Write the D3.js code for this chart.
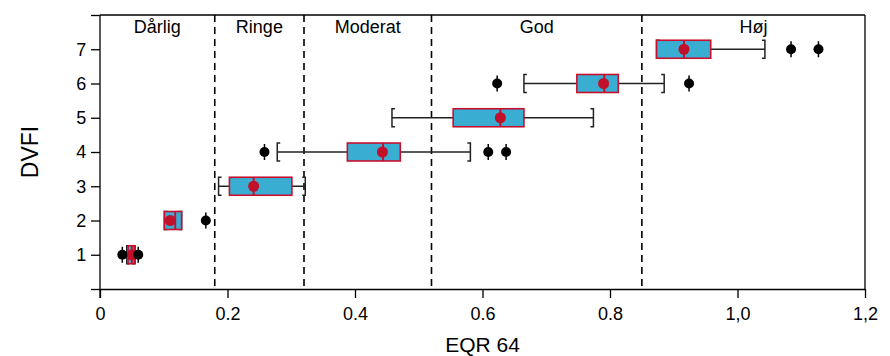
<!DOCTYPE html>
<html>
<head>
<meta charset="utf-8">
<script src="https://cdn.jsdelivr.net/npm/d3@7"></script>
<style>
  body { margin: 0; background: #fff; }
  text { font-family: "Liberation Sans", Arial, sans-serif; }
</style>
</head>
<body>
<script>
// DVFI levels and box statistics (EQR values)
var dvfi = [1, 2, 3, 4, 5, 6, 7];
var whiskLo = [0.042, 0.101, 0.186, 0.278, 0.458, 0.665, 0.873];
var q1      = [0.044, 0.101, 0.203, 0.388, 0.554, 0.748, 0.873];
var medians = [0.050, 0.118, 0.241, 0.444, 0.628, 0.791, 0.916];
var q3      = [0.054, 0.128, 0.301, 0.471, 0.665, 0.813, 0.958];
var whiskHi = [0.055, 0.128, 0.322, 0.581, 0.774, 0.885, 1.043];
var means   = [0.050, 0.110, 0.241, 0.443, 0.628, 0.790, 0.916];
var outliers = [[0.035, 0.060], [0.166], [], [0.258, 0.609, 0.637], [], [0.623, 0.924], [1.084, 1.127]];

// class boundaries and names
var bounds = [0.18, 0.32, 0.52, 0.85];
var classNames = ["Dårlig", "Ringe", "Moderat", "God", "Høj"];

var xTicks = [0, 0.2, 0.4, 0.6, 0.8, 1.0, 1.2];
var xTickLabels = ["0", "0.2", "0.4", "0.6", "0.8", "1,0", "1,2"];

var W = 890, H = 356;
var margin = { top: 15, right: 25, bottom: 67, left: 100 };
var width = W - margin.left - margin.right,
  height = H - margin.top - margin.bottom;

var svg = d3.select("body").append("svg")
  .attr("width", W)
  .attr("height", H);

var g = svg.append("g")
  .attr("transform", `translate(${margin.left},${margin.top})`);

var x = d3.scaleLinear().domain([0, 1.2]).range([0, width]);
var y = d3.scaleLinear().domain([0, 8]).range([height, 0]);

var boxH = 9, serif = 3;

// dashed class boundaries
g.selectAll(".bound")
  .data(bounds).enter()
  .append("line")
  .attr("class", "bound")
  .attr("x1", d => x(d)).attr("x2", d => x(d))
  .attr("y1", 0).attr("y2", height)
  .attr("stroke", "#000")
  .attr("stroke-width", 1.6)
  .attr("stroke-dasharray", "7 5");

// class names centered in each band
var edges = [0].concat(bounds, [1.2]);
g.selectAll(".cls")
  .data(classNames).enter()
  .append("text")
  .attr("class", "cls")
  .attr("x", (d, i) => (x(edges[i]) + x(edges[i + 1])) / 2)
  .attr("y", 18)
  .attr("text-anchor", "middle")
  .attr("font-size", 18)
  .text(d => d);

// box plot rows
var rows = dvfi.map(function (d, i) {
  return { lvl: d, lo: whiskLo[i], q1: q1[i], med: medians[i], q3: q3[i], hi: whiskHi[i], mean: means[i], out: outliers[i] };
});

var row = g.selectAll(".row")
  .data(rows).enter()
  .append("g")
  .attr("class", "row")
  .attr("transform", d => `translate(0,${y(d.lvl)})`);

// whisker lines
row.append("line")
  .attr("x1", d => x(d.lo)).attr("x2", d => x(d.hi))
  .attr("y1", 0).attr("y2", 0)
  .attr("stroke", "#222").attr("stroke-width", 1.3);

// bracket ends
row.append("path")
  .attr("d", d => `M${x(d.lo) + serif},${-boxH}H${x(d.lo)}V${boxH}H${x(d.lo) + serif}`)
  .attr("fill", "none").attr("stroke", "#222").attr("stroke-width", 1.5);
row.append("path")
  .attr("d", d => `M${x(d.hi) - serif},${-boxH}H${x(d.hi)}V${boxH}H${x(d.hi) - serif}`)
  .attr("fill", "none").attr("stroke", "#222").attr("stroke-width", 1.5);

// boxes
row.append("rect")
  .attr("x", d => x(d.q1))
  .attr("width", d => Math.max(x(d.q3) - x(d.q1), 1))
  .attr("y", -boxH).attr("height", 2 * boxH)
  .attr("fill", "#3aaed2")
  .attr("stroke", "#c8102e")
  .attr("stroke-width", 1.6);

// median
row.append("line")
  .attr("x1", d => x(d.med)).attr("x2", d => x(d.med))
  .attr("y1", -boxH).attr("y2", boxH)
  .attr("stroke", "#c8102e").attr("stroke-width", 2);

// mean
row.append("circle")
  .attr("cx", d => x(d.mean)).attr("cy", 0).attr("r", 5.5)
  .attr("fill", "#c0102a");

// outliers
var out = row.selectAll(".out")
  .data(d => d.out).enter()
  .append("g").attr("class", "out");
out.append("line")
  .attr("x1", d => x(d)).attr("x2", d => x(d))
  .attr("y1", -8).attr("y2", 8)
  .attr("stroke", "#000").attr("stroke-width", 1.5);
out.append("circle")
  .attr("cx", d => x(d)).attr("cy", 0).attr("r", 5)
  .attr("fill", "#000");

// frame: top and right
g.append("line").attr("x1", 0).attr("x2", width).attr("y1", 0).attr("y2", 0)
  .attr("stroke", "#000").attr("stroke-width", 1.3);
g.append("line").attr("x1", width).attr("x2", width).attr("y1", 0).attr("y2", height)
  .attr("stroke", "#000").attr("stroke-width", 1.3);

// axes
var xAxis = g.append("g")
  .attr("transform", `translate(0,${height})`)
  .call(d3.axisBottom(x).tickValues(xTicks).tickSize(9).tickSizeOuter(0)
    .tickFormat((d, i) => xTickLabels[i]));
xAxis.selectAll("text").attr("font-size", 18).attr("dy", "1.05em").attr("fill", "#000");

var yAxis = g.append("g")
  .call(d3.axisLeft(y).tickValues(d3.range(0, 9)).tickSize(9).tickSizeOuter(0)
    .tickFormat(d => (d >= 1 && d <= 7) ? d : ""));
yAxis.selectAll("text").attr("font-size", 18).attr("dx", "-0.1em").attr("fill", "#000");

[xAxis, yAxis].forEach(function (a) {
  a.selectAll("path, line").attr("stroke", "#000").attr("stroke-width", 1.3);
});
yAxis.select(".domain").attr("d", `M0,0V${height + 9}`);

// axis titles
svg.append("text")
  .attr("x", margin.left + x(0.6))
  .attr("y", H - 4)
  .attr("text-anchor", "middle")
  .attr("font-size", 21)
  .text("EQR 64");

svg.append("text")
  .attr("transform", `translate(38,${margin.top + y(4)}) rotate(-90)`)
  .attr("text-anchor", "middle")
  .attr("font-size", 23)
  .text("DVFI");
</script>
</body>
</html>
